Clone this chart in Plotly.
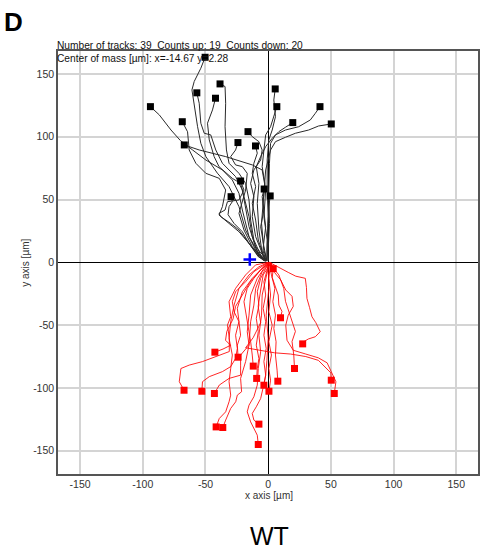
import plotly.graph_objects as go

# Tracks moving up (black): waypoints in µm, each list ends at the track end point
up_x = [
    [-3.4, -10, -18, -23.3, -31.2, -40.5, -49.7, -53.7, -56.3, -59, -60.8, -59, -53.7, -50.3],
    [-2, -7.4, -15.3, -20.6, -23.3, -28.6, -36.5, -49.7, -60.3, -70, -77.5, -86.8, -93.9],
    [-1, -10, -15.3, -18, -20.6, -26, -31.2, -36.5, -41.8, -45.8, -51, -53.7, -55, -56.9],
    [-2, -6, -11.4, -14, -15.3, -18, -23.3, -31.2, -33.3, -34.4, -33.9, -34.4, -38.4],
    [-3, -7.4, -12.7, -15.3, -19.3, -22, -28.6, -39.2, -43.1, -47, -48.4, -44.4, -42],
    [-2, -7.4, -15.3, -23.3, -31.2, -39.2, -36.5, -33.9, -39, -49.7, -57.7, -63, -64.3, -68.5],
    [-1, -0.8, -3.4, -2, -4.8, -12.7, -33.9, -55, -66.9],
    [-1, -0.8, 0, -0.8, -0.8, 0.5, 3.2, 5.8, 4.5, 5.6],
    [-2, -4.2, -2, -4.2, -2.6, -4.8, -3.4, -2, 1.9, 4.5, 6.9],
    [0, 0, 1, 0.5, 1, 1.9, 5.8, 13.8, 24.3, 33.6, 37.6, 41.3],
    [-1, -3.4, -5.3, -3.4, -2, 1.9, 5.8, 13.8, 21.7, 32.3, 40.2, 50.3],
    [-2, -4.8, -7.4, -8.7, -7.4, -9.5, -6, -2, 3.2, 8.5, 13.8, 19.6],
    [-2, -4.2, -10, -12.7, -11.4, -14, -11.4, -6, -4.8, -7.4, -12.7, -16.1],
    [-1, -4.8, -12.7, -19.3, -23.3, -20.6, -18, -16.7, -20.6, -26, -29.9, -26, -24.1],
    [-2, -3.4, -7.9, -10, -12.7, -10, -12.7, -11.4, -8.7, -10.1],
    [-2, -7.4, -15.3, -23.3, -29.9, -37.8, -39.2, -34.4, -32.5, -23.3, -19.3, -22],
    [-2, -7.9, -15.3, -20.6, -27.2, -32, -31.2, -28.6, -29.6],
    [-1, -3.4, -6, -3.4, -4.8, -3.2],
    [0, -0.8, -0.3, 0.5, 1.6],
]
up_y = [
    [2.4, 9.8, 25.8, 44.4, 60.3, 71, 84.2, 94.8, 108, 124, 137.3, 144, 154.6, 163.3],
    [1, 7.2, 20.5, 41.7, 55, 65.6, 73.6, 81.5, 89.5, 97, 105.4, 117.4, 124],
    [2, 12.5, 28.4, 44.4, 57.6, 68.3, 73.6, 78.9, 89.5, 101.5, 102.8, 110.8, 126.7, 135],
    [2, 5.8, 17.8, 33.7, 49.7, 62.9, 70.9, 78.9, 89.5, 108, 126.7, 140, 142.1],
    [1, 4.5, 20.5, 36.4, 52.3, 62.9, 66.9, 76.2, 84.2, 97.5, 110.8, 121.4, 130.7],
    [1, 5.8, 15.1, 24.4, 31, 37.7, 44.4, 57.6, 66.9, 70.9, 78.9, 89.5, 104, 112],
    [1, 17.8, 36.4, 57.6, 73.6, 77.6, 84.2, 89.5, 93.5],
    [2, 15.1, 36.4, 57.6, 81.5, 97.5, 105.4, 116, 129.3, 138.1],
    [2, 9.8, 28.4, 47, 62.9, 76.2, 89.5, 101.5, 108, 116, 124],
    [2, 9.8, 31, 57.6, 78.9, 94.8, 101.5, 105.4, 108, 113.4, 118.7, 124],
    [1, 9.8, 31, 52.3, 73.6, 89.5, 96.1, 99.6, 102.8, 105.4, 108.6, 110.2],
    [1, 7.2, 25.8, 47, 62.9, 76.2, 84.2, 92.2, 98.8, 104.1, 107.6, 111.3],
    [2, 5.8, 20.5, 36.4, 52.3, 62.9, 73.6, 81.5, 89.5, 96.1, 100.1, 104.1],
    [2, 3.2, 12.5, 25.8, 39, 48.3, 57.6, 70.9, 76.2, 77.6, 84.2, 89.5, 95.4],
    [1, 4.5, 17.8, 33.7, 47, 60.3, 70.9, 78.9, 86.9, 92.7],
    [1, 4.5, 15.1, 25.8, 31, 36.4, 39, 41.7, 48.3, 49.7, 57.6, 64.8],
    [2, 4.5, 15.1, 24.4, 31, 38, 44.4, 48.3, 52.3],
    [1, 12.5, 28.4, 41.7, 52.3, 58.4],
    [1, 9.8, 28.4, 44.4, 52.9],
]

# Tracks moving down (red)
down_x = [
    [1, 4, 3.2, 6, 8, 8.5, 11, 9.8],
    [1, 8, 16, 22, 29.6, 30.5, 30.9, 33, 34.9, 38, 41.5, 37.6, 32, 28.3, 27.5],
    [0, -6, -14, -20, -26, -28, -33, -34, -30, -36, -42.5],
    [0, -3.4, -11.4, -18, -26, -28.6, -27.2, -23.3, -22, -24.6, -24],
    [1, -6, -11.4, -16.7, -19.3, -17.5, -15.3, -14, -12.7, -11.9],
    [2, 3.2, 8.5, 12.4, 13.8, 17.7, 21.7, 19, 20.4, 21],
    [0, -2, -6, -8.7, -7.4, -9.5, -7.9, -9.5, -7.4, -8.7, -9.2],
    [2, -4, -6, -8, -6, -12, -18, -8, 5, 18, 30, 40, 46, 50, 50.3],
    [0, -0.8, -3.4, -2, -4, -2, -3.4, -1.6, -3.4, -2, -3.4],
    [1, 2.6, 5.3, 3.7, 5.8, 4.5, 6.3, 5.8, 7.1, 7.7],
    [0, -10, -18, -26, -31.2, -29.9, -32.5, -31, -31, -39, -52.4, -63, -69.6, -70.9, -67.1],
    [0, -4.8, -12.7, -20.6, -24.6, -23.3, -26, -24.6, -26, -29.9, -36.5, -47, -52.4, -52.9],
    [1, -3.4, -8.7, -14, -15.3, -16.7, -15.3, -22, -22, -22, -31.2, -39, -42.9],
    [2, 0.5, 1.9, 0.5, 3.2, 0.5, 2.6, 0.5, 1.9, 0.6],
    [1, 5, 10, 14, 19, 20, 16, 14, 15, 20, 30, 40, 47, 51, 54, 52.7],
    [0, -7.4, -15.3, -23.3, -27.2, -29.9, -31.2, -28.6, -29.9, -31.2, -29.9, -31.2, -33.9, -39, -41.5],
    [1, -4.8, -10, -11.4, -14, -15.3, -18, -22, -21.2, -24.6, -25.9, -29.9, -33.9, -36.2],
    [0, 0.5, -1.6, 0, -1, -2, -4.2, -6, -9.5, -12.7, -11.4, -7.4],
    [1, -2, -4.8, -5.3, -7.4, -6, -7.9, -8.7, -11.4, -15.3, -16.7, -14, -8.7, -7.9],
    [2, 3, 4],
]
down_y = [
    [0, -6, -12, -20, -26, -34, -39, -44.1],
    [0, -4, -8, -11, -12.7, -20, -28.7, -36, -43.3, -48, -55.2, -59.2, -61, -63.2, -64.9],
    [0, -6, -15, -25, -35, -45, -55, -62, -66, -69, -71.5],
    [0, -2, -7.4, -15.4, -23.4, -31.3, -39.3, -47.3, -58, -65.9, -75.5],
    [0, -6, -12.7, -20.7, -31.3, -42, -52.6, -63, -73.8, -82.6],
    [0, -3.5, -10, -20.7, -31, -42, -55, -63, -73.8, -84.5],
    [-1, -4.8, -12.7, -23.4, -34, -44.6, -55.2, -65.9, -76.5, -84.5, -92.4],
    [-1, -10, -22, -35, -48, -60, -68, -70, -72, -73, -75, -78, -84, -88, -93.8],
    [0, -6, -15.4, -26, -36.6, -47.3, -58, -68.5, -79, -89.8, -97.8],
    [-1, -10, -20.7, -31.3, -42, -52.6, -63.2, -73.8, -85.8, -94.6],
    [0, -2, -10, -20.7, -31.3, -43.3, -50, -60, -71, -73.8, -79, -81.8, -84.5, -95, -101.8],
    [0, -4.8, -12.7, -23.4, -36.6, -47, -58, -68.5, -76.5, -83, -87, -91, -95, -102.6],
    [0, -4.8, -12.7, -26, -42, -55.2, -65.9, -73.8, -81.8, -89.8, -92.4, -97.7, -104.4],
    [0, -12.7, -26, -39.3, -50, -63.2, -73.8, -84.5, -93.8, -102.6],
    [-1, -8, -14, -22, -27, -35, -42, -50, -62, -70, -73, -76, -80, -88, -95, -104.4],
    [0, -3.5, -10, -20.7, -34, -47.3, -60.5, -73.8, -84.5, -95, -105.7, -111, -119, -124.3, -131],
    [-1, -7.4, -20.7, -34, -47.3, -65.9, -79, -92.4, -103, -105.7, -111, -116.3, -125.6, -131.5],
    [-1, -20.7, -42, -60.6, -78, -89.8, -100.4, -108.4, -115, -120.3, -125.6, -128.8],
    [0, -12.7, -26, -42, -58, -71.2, -84.5, -97.7, -107, -113.7, -119, -127, -137.6, -145],
    [0, -3, -5],
]

center_of_mass = (-14.67, 2.28)
tick_vals = [-150, -100, -50, 0, 50, 100, 150]
tick_text = ["-150", "-100", "-50", "0", "50", "100", "150"]

fig = go.Figure()

for xs, ys in zip(up_x, up_y):
    fig.add_trace(go.Scatter(x=xs, y=ys, mode="lines",
                             line=dict(color="#2a2a2a", width=1), hoverinfo="skip"))
for xs, ys in zip(down_x, down_y):
    fig.add_trace(go.Scatter(x=xs, y=ys, mode="lines",
                             line=dict(color="rgba(255,0,0,0.85)", width=1), hoverinfo="skip"))

fig.add_trace(go.Scatter(x=[t[-1] for t in up_x], y=[t[-1] for t in up_y], mode="markers",
                         marker=dict(symbol="square", size=7, color="black")))
fig.add_trace(go.Scatter(x=[t[-1] for t in down_x], y=[t[-1] for t in down_y], mode="markers",
                         marker=dict(symbol="square", size=7, color="#ff0000")))
fig.add_trace(go.Scatter(x=[center_of_mass[0]], y=[center_of_mass[1]], mode="markers",
                         marker=dict(symbol="cross-thin", size=9,
                                     line=dict(color="#0000ff", width=2.5))))

axis_common = dict(
    tickvals=tick_vals, ticktext=tick_text, ticks="", showgrid=True,
    gridcolor="#d4d4d4", gridwidth=1.5,
    zeroline=True, zerolinecolor="#000000", zerolinewidth=1.2,
    showline=True, linecolor="#555555", linewidth=1.5, mirror=True,
    tickfont=dict(family="Liberation Sans, Arial, sans-serif", size=10.5, color="#333333"),
)

fig.update_layout(
    width=481, height=552,
    margin=dict(l=58, r=1, t=51, b=78),
    paper_bgcolor="white", plot_bgcolor="white",
    showlegend=False,
    xaxis=dict(range=[-167.6, 167.3], **axis_common),
    yaxis=dict(range=[-168.5, 168.3], **axis_common),
    font=dict(family="Liberation Sans, Arial, sans-serif"),
)

fig.add_annotation(x=-0.078, y=0.5, xref="paper", yref="paper", showarrow=False,
                   text="y axis [µm]", textangle=-90,
                   font=dict(size=10, color="#333333"), xanchor="center", yanchor="middle")
fig.add_annotation(x=0.5, y=0, xref="paper", yref="paper", showarrow=False,
                   text="x axis [µm]", font=dict(size=10, color="#333333"),
                   xanchor="center", yanchor="middle", yshift=-21, xshift=1)
fig.add_annotation(x=0, y=1, xref="paper", yref="paper", showarrow=False,
                   text="Number of tracks: 39 \u00a0Counts up: 19 \u00a0Counts down: 20",
                   font=dict(size=10.2, color="#111111"), xanchor="left", yanchor="middle",
                   xshift=-3, yshift=6)
fig.add_annotation(x=0, y=1, xref="paper", yref="paper", showarrow=False,
                   text="Center of mass [µm]: x=-14.67 y=2.28",
                   font=dict(size=10.2, color="#111111"), xanchor="left", yanchor="middle",
                   xshift=-3, yshift=-7)
fig.add_annotation(x=0, y=1, xref="paper", yref="paper", showarrow=False,
                   text="<b>D</b>", font=dict(size=26, color="black"),
                   xanchor="left", yanchor="middle", xshift=-56, yshift=29)
fig.add_annotation(x=0.5, y=0, xref="paper", yref="paper", showarrow=False,
                   text="WT", font=dict(size=25, color="black"),
                   xanchor="center", yanchor="bottom", yshift=-78, xshift=1)

fig.write_html("out.html")
